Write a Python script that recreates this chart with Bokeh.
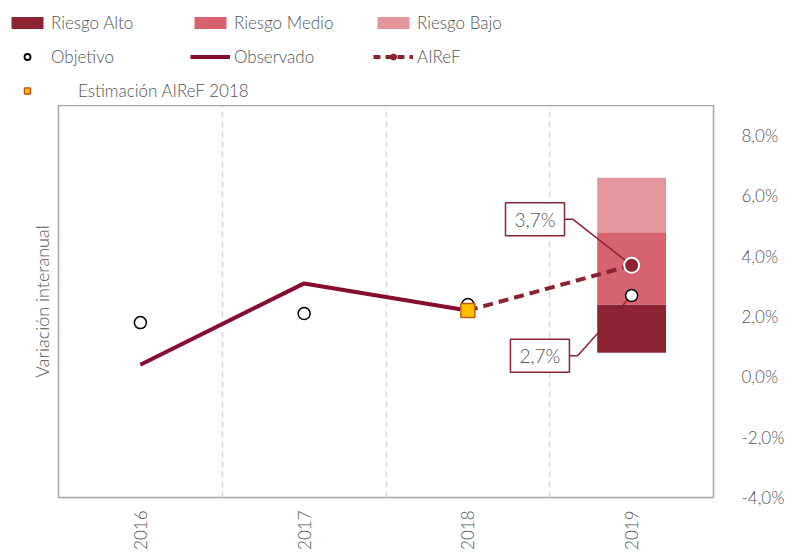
from bokeh.plotting import figure
from bokeh.models import (FixedTicker, LinearAxis, Range1d, Legend, LegendItem)
from bokeh.core.properties import value
from bokeh.embed import file_html
from bokeh.resources import INLINE

# ---------------- data ----------------
years = ["2016", "2017", "2018", "2019"]
objetivo = [1.8, 2.1, 2.4, 2.7]
observado_years = ["2016", "2017", "2018"]
observado = [0.4, 3.1, 2.2]
airef_years = ["2018", "2019"]
airef = [2.2, 3.7]
estimacion_years = ["2018"]
estimacion = [2.2]
risk_year = "2019"
risk_base = 0.8
riesgo_alto_top = 2.4
riesgo_medio_top = 4.8
riesgo_bajo_top = 6.6
y_ticks = [-4, -2, 0, 2, 4, 6, 8]
y_tick_labels = ["-4,0%", "-2,0%", "0,0%", "2,0%", "4,0%", "6,0%", "8,0%"]
label_texts = ["3,7%", "2,7%"]

FONT = "Lato Light"
TXT = "#555555"
C_ALTO = "#8B2332"
C_MEDIO = "#D6636F"
C_BAJO = "#E4969E"
C_OBS = "#870C2E"
C_EST_FILL = "#FFC000"
C_EST_LINE = "#C55A11"

pos = {y: i + 0.5 for i, y in enumerate(years)}


def draw_series(fig, legend_style=False):
    """Draw bar and line series on a figure; returns the renderers."""
    rx = [pos[risk_year]]
    r = {}
    r["alto"] = fig.vbar(x=rx, width=0.42, bottom=[risk_base], top=[riesgo_alto_top],
                         fill_color=C_ALTO, line_color=None)
    r["medio"] = fig.vbar(x=rx, width=0.42, bottom=[riesgo_alto_top], top=[riesgo_medio_top],
                          fill_color=C_MEDIO, line_color=None)
    r["bajo"] = fig.vbar(x=rx, width=0.42, bottom=[riesgo_medio_top], top=[riesgo_bajo_top],
                         fill_color=C_BAJO, line_color=None)
    r["obs"] = fig.line([pos[y] for y in observado_years], observado, line_color=C_OBS, line_width=4)
    r["airef_line"] = fig.line([pos[y] for y in airef_years], airef, line_color=C_ALTO, line_width=4,
                               line_dash="7 5" if legend_style else "10 6")
    return r


# ---------------- main chart ----------------
p = figure(width=788, height=447, x_range=Range1d(0, len(years)), y_range=Range1d(-4, 9),
           y_axis_location="right", output_backend="svg", toolbar_location=None,
           min_border_left=58, min_border_right=75, min_border_top=0, min_border_bottom=55)
p.background_fill_color = "white"
p.border_fill_color = "white"
p.outline_line_color = "#A6A6A6"
p.outline_line_width = 1.5

p.xaxis.ticker = FixedTicker(ticks=[pos[y] for y in years])
p.xaxis.major_label_overrides = {pos[y]: y for y in years}
p.xaxis.major_label_orientation = 3.14159265 / 2
p.xaxis.axis_line_color = None
p.xaxis.major_tick_line_color = None
p.xaxis.minor_tick_line_color = None
p.xaxis.major_label_standoff = 7
p.xaxis.major_label_text_font = FONT
p.xaxis.major_label_text_font_size = "17px"
p.xaxis.major_label_text_color = TXT

yax = p.yaxis[0]
yax.ticker = FixedTicker(ticks=y_ticks)
yax.major_label_overrides = dict(zip(y_ticks, y_tick_labels))
yax.axis_line_color = None
yax.major_tick_line_color = None
yax.minor_tick_line_color = None
yax.major_label_standoff = 22
yax.major_label_text_font = FONT
yax.major_label_text_font_size = "17px"
yax.major_label_text_color = TXT

left = LinearAxis(ticker=FixedTicker(ticks=[]), axis_label="Variación interanual",
                  axis_line_color=None, major_tick_line_color=None, minor_tick_line_color=None,
                  axis_label_text_font=FONT, axis_label_text_font_size="18px",
                  axis_label_text_color=TXT, axis_label_text_font_style="normal",
                  axis_label_standoff=6, major_label_text_font_size="0px")
p.add_layout(left, "left")

p.ygrid.visible = False
p.xgrid.ticker = FixedTicker(ticks=[1, 2, 3])
p.xgrid.grid_line_color = "#D9D9D9"
p.xgrid.grid_line_dash = "6 4"
p.xgrid.grid_line_width = 1.5

draw_series(p)

# leader lines for annotations
px = pos[risk_year]
lead_xs = [[px - 0.42, px - 0.36, px], [px - 0.39, px - 0.33, px]]
lead_ys = [[airef[1] + 1.53, airef[1] + 1.53, airef[1]], [objetivo[3] - 2.0, objetivo[3] - 2.0, objetivo[3]]]
p.multi_line(lead_xs, lead_ys, line_color=C_ALTO, line_width=1.5)

p.scatter([pos[y] for y in years], objetivo, marker="circle", size=12,
          fill_color="white", line_color="black", line_width=1.5)
p.scatter([pos[airef_years[1]]], [airef[1]], marker="circle", size=15,
          fill_color=C_ALTO, line_color="white", line_width=2)
p.scatter([pos[y] for y in estimacion_years], estimacion, marker="square", size=14,
          fill_color=C_EST_FILL, line_color=C_EST_LINE, line_width=1.5)

p.text(x=[px - 0.59, px - 0.56], y=[airef[1] + 1.53, objetivo[3] - 2.0], text=label_texts,
       text_align="center", text_baseline="middle", text_font=value(FONT),
       text_font_size="19px", text_color=TXT, border_line_color=C_ALTO,
       border_line_width=1.5, background_fill_color="white", padding=(9, 5))

# ---------------- legend strip (same series, out of view) ----------------
lg = figure(width=788, height=105, x_range=Range1d(0, len(years)), y_range=Range1d(100, 101),
            x_axis_location=None, y_axis_location=None, output_backend="svg",
            toolbar_location=None, min_border=0)
lg.outline_line_color = None
lg.xgrid.visible = False
lg.ygrid.visible = False
g = draw_series(lg, legend_style=True)
g_obj = lg.scatter([pos[y] for y in years], objetivo, marker="circle", size=10,
                   fill_color="white", line_color="black", line_width=1.8)
g_ap = lg.scatter([pos[airef_years[1]]], [airef[1]], marker="circle", size=9,
                  fill_color=C_ALTO, line_color=C_ALTO)
g_est = lg.scatter([pos[y] for y in estimacion_years], estimacion, marker="square", size=11,
                   fill_color=C_EST_FILL, line_color=C_EST_LINE, line_width=1.5)

common = dict(orientation="horizontal", glyph_width=40, glyph_height=15, label_height=30,
              spacing=4, padding=0, margin=0, border_line_color=None, background_fill_alpha=0,
              label_text_font=FONT, label_text_font_size="17px", label_text_color=TXT)
legend1 = Legend(items=[
    LegendItem(label="Riesgo Alto", renderers=[g["alto"]]),
    LegendItem(label="Riesgo Medio", renderers=[g["medio"]]),
    LegendItem(label="Riesgo Bajo", renderers=[g["bajo"]]),
    LegendItem(label="Objetivo", renderers=[g_obj]),
    LegendItem(label="Observado", renderers=[g["obs"]]),
    LegendItem(label="AIReF", renderers=[g["airef_line"], g_ap]),
], location=(7, 34), ncols=3, label_standoff=4, label_width=135, **common)
legend2 = Legend(items=[LegendItem(label="Estimación AIReF 2018", renderers=[g_est])],
                 location=(7, 0), label_standoff=31, **common)
lg.add_layout(legend1, "center")
lg.add_layout(legend2, "center")

open("out.html", "w").write(file_html([lg, p], INLINE))
